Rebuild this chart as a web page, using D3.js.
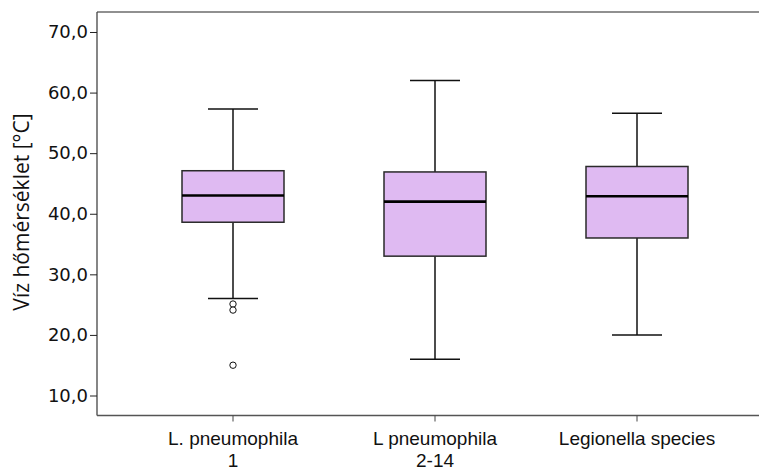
<!DOCTYPE html>
<html>
<head>
<meta charset="utf-8">
<script src="https://cdn.jsdelivr.net/npm/d3@7"></script>
<style>
  html, body { margin: 0; padding: 0; background: #fff; }
  svg { display: block; }
</style>
</head>
<body>
<svg id="chart" width="759" height="471"></svg>
<script>
// Water temperature by Legionella group
const categories = ["L. pneumophila\n1", "L pneumophila\n2-14", "Legionella species"];
const whiskerLow  = [26.0, 16.0, 20.0];
const q1          = [38.6, 33.0, 36.0];
const median      = [43.0, 42.0, 42.9];
const q3          = [47.1, 46.9, 47.8];
const whiskerHigh = [57.3, 62.0, 56.6];
const outliers    = [[25.1, 24.1, 15.0], [], []];
const yTicks      = [10, 20, 30, 40, 50, 60, 70];
const yLabel      = "Víz hőmérséklet [°C]";

const svg = d3.select("#chart");
const plot = { left: 97, right: 759, top: 12, bottom: 415.5 };

const y = d3.scaleLinear().domain([6.7, 73.3]).range([plot.bottom, plot.top]);
const x = d3.scaleBand().domain(categories).range([132, 738]);
const cx = c => x(c) + x.bandwidth() / 2;

const boxW = 102, capW = 50;
const boxFill = "#dfbaf2";

const data = categories.map((c, i) => ({
  c, lo: whiskerLow[i], q1: q1[i], med: median[i], q3: q3[i], hi: whiskerHigh[i], out: outliers[i]
}));

// frame: top line
svg.append("line").attr("x1", plot.left).attr("x2", plot.right)
  .attr("y1", plot.top).attr("y2", plot.top)
  .attr("stroke", "#6b6b6b").attr("stroke-width", 1.5);

// y axis
const yAxis = d3.axisLeft(y).tickValues(yTicks).tickSize(7).tickSizeOuter(0)
  .tickFormat(d => d3.format(".1f")(d).replace(".", ","));
const gy = svg.append("g").attr("transform", `translate(${plot.left},0)`).call(yAxis);
gy.select(".domain").attr("d", `M0,${plot.top}V${plot.bottom}`).attr("stroke", "#444").attr("stroke-width", 1.3);
gy.selectAll(".tick line").attr("stroke", "#222");
gy.selectAll(".tick text").attr("x", -9)
  .style("font-family", "DejaVu Sans").style("font-size", "18px").attr("fill", "#111");

// x axis
const xAxis = d3.axisBottom(x).tickSize(6).tickSizeOuter(0).tickFormat("");
const gx = svg.append("g").attr("transform", `translate(0,${plot.bottom})`).call(xAxis);
gx.select(".domain").attr("d", `M${plot.left},0H${plot.right}`).attr("stroke", "#555").attr("stroke-width", 1.5);
gx.selectAll(".tick line").attr("stroke", "#444");

// category labels (two lines where needed)
const labels = svg.append("g");
categories.forEach(c => {
  const t = labels.append("text").attr("x", cx(c)).attr("y", 445)
    .attr("text-anchor", "middle")
    .style("font-family", "'Liberation Sans', Arial, sans-serif").style("font-size", "19px").attr("fill", "#111");
  c.split("\n").forEach((line, k) => {
    t.append("tspan").attr("x", cx(c)).attr("dy", k === 0 ? 0 : 21.5).text(line);
  });
});

// y label
svg.append("text")
  .attr("transform", `translate(29,212) rotate(-90)`)
  .attr("text-anchor", "middle")
  .style("font-family", "'Open Sans', Lato, sans-serif").style("font-size", "21px").attr("fill", "#111")
  .text(yLabel);

// boxes
const g = svg.append("g");
data.forEach(d => {
  const m = cx(d.c);
  // whiskers
  g.append("line").attr("x1", m).attr("x2", m).attr("y1", y(d.hi)).attr("y2", y(d.q3))
    .attr("stroke", "#111").attr("stroke-width", 1.5);
  g.append("line").attr("x1", m).attr("x2", m).attr("y1", y(d.q1)).attr("y2", y(d.lo))
    .attr("stroke", "#111").attr("stroke-width", 1.5);
  [d.hi, d.lo].forEach(v => {
    g.append("line").attr("x1", m - capW / 2).attr("x2", m + capW / 2).attr("y1", y(v)).attr("y2", y(v))
      .attr("stroke", "#111").attr("stroke-width", 1.5);
  });
  // box
  g.append("rect").attr("x", m - boxW / 2).attr("width", boxW)
    .attr("y", y(d.q3)).attr("height", y(d.q1) - y(d.q3))
    .attr("fill", boxFill).attr("stroke", "#2a2a2a").attr("stroke-width", 1.5);
  // median
  g.append("line").attr("x1", m - boxW / 2).attr("x2", m + boxW / 2).attr("y1", y(d.med)).attr("y2", y(d.med))
    .attr("stroke", "#000").attr("stroke-width", 2.6);
  // outliers
  d.out.forEach(v => {
    g.append("circle").attr("cx", m).attr("cy", y(v)).attr("r", 3.2)
      .attr("fill", "#fff").attr("stroke", "#111").attr("stroke-width", 1);
  });
});
</script>
</body>
</html>
